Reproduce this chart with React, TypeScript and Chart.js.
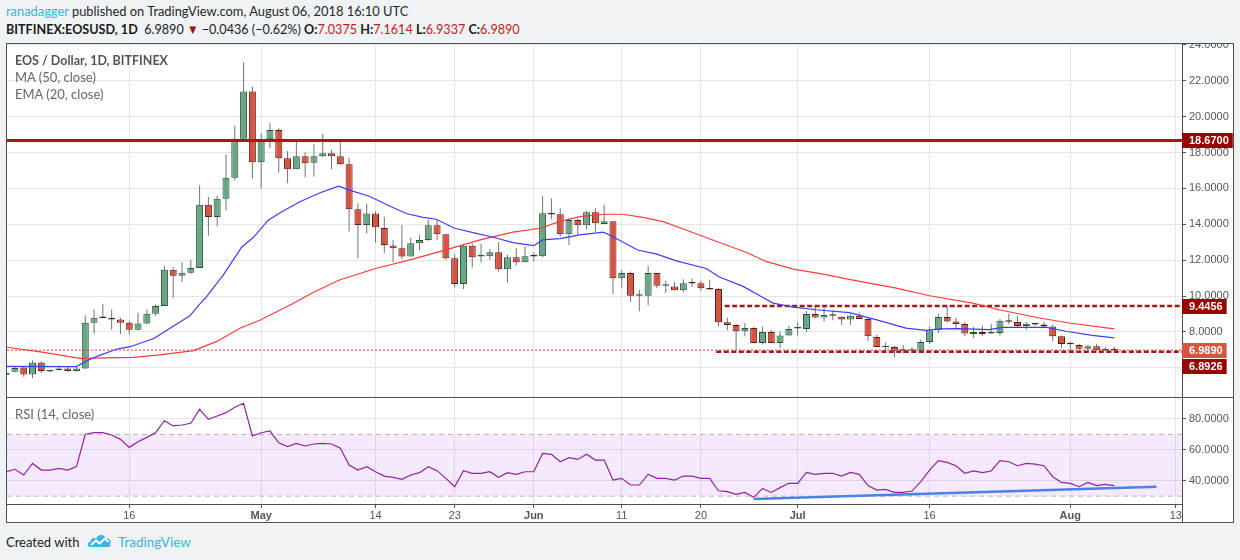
import React, { useEffect, useRef } from "react";
import { Chart, registerables } from "chart.js";

Chart.register(...registerables);

// Day index 0 = 2 April 2018 (daily candles, BITFINEX EOS/USD)
const tickDays = [14, 29, 42, 51, 60, 70, 79, 90, 105, 121, 133];
const tickLabels = ["16", "May", "14", "23", "Jun", "11", "20", "Jul", "16", "Aug", "13"];
const monthLabels = ["May", "Jun", "Jul", "Aug"];

const openPrices = [
  5.62, 5.78, 6.02, 5.63, 6.3, 5.8, 5.87, 5.96, 5.83, 5.96,
  8.52, 8.82, 8.8, 8.69, 8.52, 8.13, 8.47, 9.02, 9.45, 11.47,
  11.14, 11.3, 11.56, 15.09, 14.4, 15.42, 16.59, 18.76, 21.4, 17.45,
  18.74, 19.25, 17.68, 17.06, 17.79, 17.43, 17.79, 17.96, 17.79, 17.34,
  14.84, 13.96, 14.6, 13.8, 12.82, 12.67, 12.2, 12.94, 13.13, 13.94,
  13.44, 12.11, 10.67, 12.8, 12.2, 12.22, 12.44, 11.5, 12.17, 11.89,
  12.24, 12.22, 14.61, 14.56, 13.44, 14.24, 13.94, 14.67, 14.02, 14.17,
  11.0, 11.28, 10.02, 10.02, 11.28, 10.57, 10.54, 10.33, 10.74, 10.72,
  10.44, 10.39, 8.54, 8.39, 8.04, 8.22, 7.39, 8.0, 7.39, 7.8,
  8.2, 8.17, 9.0, 8.81, 8.94, 8.85, 8.69, 8.91, 8.72, 7.72,
  7.15, 7.17, 6.98, 6.96, 6.96, 7.44, 8.09, 8.83, 8.59, 8.44,
  7.89, 8.0, 7.91, 7.94, 8.61, 8.56, 8.33, 8.46, 8.42, 8.31,
  7.76, 7.35, 7.28, 7.06, 7.2, 6.98, 7.0375,
];
const highPrices = [
  5.8, 6.05, 6.05, 6.43, 6.37, 5.9, 6.05, 6.09, 6.09, 8.93,
  9.27, 9.58, 9.25, 8.8, 8.62, 9.08, 9.25, 9.53, 11.7, 11.62,
  11.88, 12.03, 16.17, 15.52, 15.61, 17.89, 19.5, 23.03, 21.68, 19.07,
  19.66, 19.35, 18.08, 18.74, 18.01, 18.46, 19.03, 18.14, 18.75, 17.68,
  15.17, 15.14, 14.73, 14.42, 13.13, 13.96, 13.25, 13.41, 14.24, 14.24,
  13.44, 12.33, 12.91, 12.91, 12.91, 12.61, 13.0, 12.3, 12.67, 12.76,
  12.44, 15.57, 15.44, 14.89, 14.33, 14.33, 14.76, 14.89, 15.09, 14.17,
  11.46, 11.37, 10.35, 11.69, 11.28, 10.85, 10.78, 10.94, 10.98, 10.85,
  10.91, 10.44, 8.81, 8.44, 8.5, 8.28, 8.31, 8.13, 8.04, 8.35,
  8.54, 9.15, 9.43, 9.46, 9.2, 8.87, 9.0, 9.09, 8.81, 7.85,
  7.43, 7.24, 7.28, 7.15, 7.57, 8.31, 9.02, 9.43, 8.78, 8.56,
  8.28, 8.35, 8.46, 8.74, 9.02, 8.91, 8.56, 8.52, 8.54, 8.41,
  7.81, 7.44, 7.35, 7.28, 7.35, 7.15, 7.1614,
];
const lowPrices = [
  5.5, 5.75, 5.5, 5.44, 5.72, 5.75, 5.85, 5.8, 5.8, 5.94,
  7.9, 8.76, 8.13, 7.87, 7.87, 8.09, 8.43, 8.9, 9.45, 9.91,
  10.79, 11.25, 11.56, 13.38, 13.88, 14.78, 16.44, 18.76, 16.54, 16.0,
  18.23, 16.87, 16.28, 17.06, 16.62, 16.65, 17.73, 17.06, 17.3, 13.59,
  12.11, 13.5, 12.98, 12.4, 11.88, 12.05, 12.2, 12.54, 13.09, 13.13,
  12.02, 10.48, 10.39, 11.59, 11.87, 12.02, 11.37, 10.76, 11.7, 11.89,
  11.93, 12.15, 14.3, 13.31, 12.85, 13.41, 13.72, 13.59, 14.02, 10.11,
  10.48, 9.67, 9.15, 9.48, 10.44, 10.17, 10.33, 10.22, 10.5, 10.3,
  10.35, 8.31, 8.09, 6.98, 7.76, 7.39, 7.3, 7.39, 7.11, 7.8,
  7.81, 7.98, 8.78, 8.59, 8.65, 8.41, 8.41, 8.72, 7.48, 7.17,
  6.83, 6.59, 6.8, 6.93, 6.93, 7.33, 7.94, 8.54, 8.22, 7.76,
  7.67, 7.76, 7.89, 7.8, 8.44, 8.28, 8.13, 8.33, 8.22, 7.48,
  7.11, 6.93, 7.02, 6.98, 6.96, 6.94, 6.9337,
];
const closePrices = [
  5.72, 6.0, 5.63, 6.3, 5.83, 5.86, 5.96, 5.83, 5.96, 8.52,
  8.8, 8.78, 8.69, 8.52, 8.13, 8.47, 9.02, 9.45, 11.47, 11.14,
  11.3, 11.56, 15.09, 14.4, 15.42, 16.59, 18.76, 21.4, 17.45, 18.74,
  19.25, 17.68, 17.06, 17.79, 17.4, 17.79, 17.96, 17.79, 17.34, 14.84,
  13.96, 14.6, 13.84, 12.84, 12.67, 12.2, 12.94, 13.13, 13.94, 13.44,
  12.11, 10.67, 12.8, 12.17, 12.24, 12.44, 11.5, 12.17, 11.89, 12.22,
  12.2, 14.61, 14.55, 13.44, 14.24, 13.94, 14.67, 14.06, 14.17, 11.0,
  11.28, 10.02, 10.04, 11.28, 10.57, 10.59, 10.33, 10.72, 10.7, 10.44,
  10.37, 8.54, 8.39, 8.04, 8.22, 7.39, 8.0, 7.39, 7.8, 8.17,
  8.24, 9.0, 8.81, 8.94, 8.9, 8.69, 8.91, 8.72, 7.76, 7.17,
  7.17, 6.96, 6.96, 6.98, 7.44, 8.09, 8.83, 8.59, 8.44, 7.91,
  8.0, 7.89, 7.94, 8.63, 8.57, 8.33, 8.46, 8.42, 8.31, 7.76,
  7.33, 7.31, 7.06, 7.2, 6.98, 7.04, 6.989,
];

const rsiValues = [
  45.8, 47.4, 43.7, 51.2, 46.9, 46.9, 48.0, 46.9, 49.1, 70.1,
  71.1, 71.1, 69.6, 66.8, 61.6, 65.3, 68.1, 71.1, 78.9, 75.5,
  76.1, 77.2, 86.3, 79.8, 81.9, 84.1, 87.6, 90.2, 69.0, 71.1,
  72.2, 64.6, 62.1, 64.2, 62.5, 63.8, 64.2, 63.8, 61.0, 50.2,
  46.9, 49.1, 45.8, 43.0, 42.2, 40.9, 43.7, 45.2, 49.1, 46.5,
  41.5, 36.1, 46.5, 44.8, 44.8, 45.8, 42.2, 45.2, 44.1, 45.8,
  45.8, 57.7, 57.1, 52.3, 54.9, 53.8, 57.1, 53.4, 53.4, 40.4,
  41.5, 37.2, 37.2, 44.1, 41.5, 41.5, 40.4, 43.0, 43.0, 41.5,
  41.5, 33.5, 32.9, 31.1, 32.4, 29.2, 35.0, 32.4, 35.5, 38.3,
  38.3, 45.4, 44.1, 44.8, 44.8, 43.0, 45.4, 44.1, 36.8, 33.9,
  34.4, 32.4, 32.4, 33.3, 39.4, 46.9, 53.0, 51.9, 49.7, 44.8,
  46.3, 45.2, 46.3, 53.0, 52.3, 49.7, 51.2, 50.8, 49.7, 42.6,
  38.9, 38.3, 36.1, 38.9, 36.8, 37.6, 36.8,
];

// EMA (20, close)
const emaDays = [0.1, 8.0, 9.2, 10.7, 12.6, 14.1, 16.8, 18.6, 20.9, 21.9, 22.8, 24.7, 26.8, 28.1, 29.8, 31.3, 33.4, 35.7, 37.8, 39.4, 41.3, 43.6, 45.5, 47.4, 48.9, 51.0, 53.1, 55.4, 57.6, 60.0, 61.0, 63.0, 65.2, 67.9, 69.0, 71.8, 73.9, 76.2, 79.6, 81.1, 83.8, 86.0, 87.2, 89.5, 92.1, 95.9, 98.9, 102.3, 104.6, 106.1, 108.4, 111.8, 113.3, 118.3, 120.5, 123.5, 126];
const emaValues = [6.08, 6.07, 6.4, 6.71, 7.05, 7.18, 7.64, 8.2, 8.9, 9.5, 9.97, 11.18, 12.74, 13.26, 14.23, 14.68, 15.26, 15.76, 16.13, 15.85, 15.56, 15.02, 14.6, 14.39, 14.28, 13.78, 13.54, 13.28, 12.98, 12.81, 13.13, 13.2, 13.41, 13.56, 13.31, 12.57, 12.35, 11.96, 11.54, 11.06, 10.54, 9.94, 9.61, 9.39, 9.24, 9.08, 8.69, 8.22, 8.09, 8.17, 8.19, 8.13, 8.26, 8.26, 8.04, 7.81, 7.67];

// MA (50, close)
const maDays = [0.1, 3.9, 8.4, 14.5, 17.5, 21.3, 23.9, 26.6, 28.9, 32.3, 34.9, 37.9, 42.1, 45.9, 49.3, 53.9, 57.6, 60.7, 62.9, 65.2, 67.9, 70.1, 72.4, 74.7, 77.0, 80.8, 84.2, 86.4, 89.5, 92.9, 96.0, 101.2, 105.0, 109.9, 112.9, 117.5, 120.9, 126];
const maValues = [7.15, 6.89, 6.53, 6.59, 6.72, 6.96, 7.46, 8.21, 8.67, 9.5, 10.2, 10.9, 11.55, 12.02, 12.48, 13.13, 13.56, 13.78, 14.15, 14.43, 14.56, 14.56, 14.39, 14.15, 13.74, 13.04, 12.43, 11.93, 11.5, 11.22, 10.92, 10.44, 10.02, 9.61, 9.24, 8.78, 8.5, 8.17];

const priceTicks = [6, 8, 10, 12, 14, 16, 18, 20, 22, 24];
const rsiTicks = [40, 60, 80];

const resistanceLevel = 18.67;
const rangeTopLevel = 9.4456;
const supportLevel = 6.8926;
const lastClose = 6.989;
const rangeTopStartDay = 81.7;
const supportStartDay = 80.75;

const rsiUpper = 70;
const rsiLower = 30;
const rsiTrendDays = [85, 130.8];
const rsiTrendValues = [28.1, 36.1];

// view range
const X_MIN = 0.1;
const X_MAX = 133.7;
const PRICE_MIN = 4.378;
const PRICE_MAX = 24.045;
const RSI_MIN = 24.9;
const RSI_MAX = 93.6;

// styles
const UP_FILL = "#6ba583";
const UP_BORDER = "#225437";
const DOWN_FILL = "#d75442";
const DOWN_BORDER = "#5b1a13";
const WICK = "#737375";
const GRID = "#e6e6e6";
const FRAME = "#4f4f4f";
const AXIS_TEXT = "#555555";
const LEVEL_RED = "#a31919";
const TAG_RED = "#990000";
const AXIS_W = 51;

Chart.defaults.font.family = "'Liberation Sans', Arial, sans-serif";

const candleIdx = openPrices.map((_, i) => i);
const isUp = (i: number) => closePrices[i] >= openPrices[i];

const tagPlugin = {
  id: "priceTags",
  afterDraw(chart: any) {
    const { ctx, chartArea, scales } = chart;
    const ys = scales.y;
    const tags = [
      { value: resistanceLevel, bg: TAG_RED },
      { value: rangeTopLevel, bg: TAG_RED },
      { value: lastClose, bg: DOWN_FILL },
      { value: supportLevel, bg: TAG_RED },
    ].sort((a, b) => b.value - a.value);
    ctx.save();
    ctx.font = "bold 11px 'Liberation Sans', Arial, sans-serif";
    ctx.textBaseline = "middle";
    const h = 15;
    let lastBottom = -Infinity;
    for (const t of tags) {
      const cy = ys.getPixelForValue(t.value);
      const top = Math.max(Math.round(cy - h / 2), lastBottom + 1);
      const text = t.value.toFixed(4);
      const w = ctx.measureText(text).width;
      ctx.fillStyle = t.bg;
      ctx.fillRect(chartArea.right, top, 7 + w + 4, h);
      ctx.fillStyle = "#ffffff";
      ctx.fillText(text, chartArea.right + 7, top + h / 2 + 0.5);
      lastBottom = top + h;
    }
    ctx.restore();
  },
};

function levelLine(y: number, fromX: number, color: string, width: number, dash: number[] = []) {
  return {
    type: "line",
    data: [
      { x: fromX, y },
      { x: X_MAX, y },
    ],
    borderColor: color,
    borderWidth: width,
    borderDash: dash,
    pointRadius: 0,
    fill: false,
    order: 0,
  };
}

function xScale(showLabels: boolean) {
  return {
    type: "linear",
    min: X_MIN,
    max: X_MAX,
    offset: false,
    afterBuildTicks: (s: any) => {
      s.ticks = tickDays.map((v) => ({ value: v }));
    },
    afterFit: (s: any) => {
      s.height = showLabels ? 18 : 0;
      s.paddingLeft = 0;
      s.paddingRight = 0;
      s.paddingTop = 0;
      s.paddingBottom = 0;
    },
    ticks: {
      display: showLabels,
      autoSkip: false,
      maxRotation: 0,
      padding: 1,
      color: AXIS_TEXT,
      font: (c: any) => {
        const lbl = tickLabels[tickDays.indexOf(c.tick ? c.tick.value : -1)];
        return { size: 11, weight: monthLabels.includes(lbl) ? "bold" : "normal" };
      },
      callback: (v: any) => {
        const k = tickDays.indexOf(Number(v));
        return k >= 0 ? tickLabels[k] : "";
      },
    },
    grid: {
      color: GRID,
      offset: false,
      drawTicks: showLabels,
      tickLength: 4,
      tickColor: AXIS_TEXT,
    },
    border: { display: showLabels, color: FRAME },
  };
}

function yScale(min: number, max: number, ticks: number[]) {
  return {
    type: "linear",
    position: "right",
    min,
    max,
    afterBuildTicks: (s: any) => {
      s.ticks = ticks.map((v) => ({ value: v }));
    },
    afterFit: (s: any) => {
      s.width = AXIS_W;
      s.paddingTop = 0;
      s.paddingBottom = 0;
      s.paddingLeft = 0;
      s.paddingRight = 0;
    },
    ticks: {
      autoSkip: false,
      padding: 3,
      color: AXIS_TEXT,
      font: { size: 11 },
      callback: (v: any) => Number(v).toFixed(4),
    },
    grid: { color: GRID, tickLength: 4, tickColor: AXIS_TEXT },
    border: { display: true, color: FRAME },
  };
}

function priceConfig(): any {
  return {
    type: "bar",
    data: {
      datasets: [
        {
          type: "line",
          label: "EMA (20, close)",
          data: emaDays.map((d, i) => ({ x: d, y: emaValues[i] })),
          borderColor: "#3d3dff",
          borderWidth: 1.2,
          pointRadius: 0,
          fill: false,
          order: 0,
        },
        {
          type: "line",
          label: "MA (50, close)",
          data: maDays.map((d, i) => ({ x: d, y: maValues[i] })),
          borderColor: "#ff3b3b",
          borderWidth: 1.2,
          pointRadius: 0,
          fill: false,
          order: 0,
        },
        levelLine(resistanceLevel, X_MIN, LEVEL_RED, 3),
        levelLine(rangeTopLevel, rangeTopStartDay, LEVEL_RED, 2.5, [5, 2.5]),
        levelLine(supportLevel, supportStartDay, LEVEL_RED, 2.5, [5, 2.5]),
        levelLine(lastClose, X_MIN, "#e0453a", 1, [2, 2]),
        {
          type: "bar",
          label: "bodies",
          data: candleIdx.map((i) => ({ x: i, y: [openPrices[i], closePrices[i]] })),
          backgroundColor: candleIdx.map((i) => (isUp(i) ? UP_FILL : DOWN_FILL)),
          borderColor: candleIdx.map((i) => (isUp(i) ? UP_BORDER : DOWN_BORDER)),
          borderWidth: 1,
          borderSkipped: false,
          grouped: false,
          barPercentage: 0.8,
          categoryPercentage: 1,
          maxBarThickness: 7,
          minBarLength: 1.5,
          inflateAmount: 0,
          order: 2,
        },
        {
          type: "bar",
          label: "wicks",
          data: candleIdx.map((i) => ({ x: i, y: [lowPrices[i], highPrices[i]] })),
          backgroundColor: WICK,
          borderWidth: 0,
          grouped: false,
          barPercentage: 1,
          categoryPercentage: 1,
          maxBarThickness: 1,
          inflateAmount: 0,
          order: 3,
        },
      ],
    },
    options: {
      animation: false,
      responsive: false,
      maintainAspectRatio: false,
      events: [],
      layout: { padding: 0 },
      plugins: { legend: { display: false }, tooltip: { enabled: false } },
      scales: {
        x: xScale(false),
        y: yScale(PRICE_MIN, PRICE_MAX, priceTicks),
      },
    },
    plugins: [tagPlugin],
  };
}

function rsiConfig(): any {
  return {
    type: "line",
    data: {
      datasets: [
        {
          label: "upper",
          data: [
            { x: X_MIN, y: rsiUpper },
            { x: X_MAX, y: rsiUpper },
          ],
          borderColor: "#b4b4b4",
          borderWidth: 1,
          borderDash: [5, 4],
          pointRadius: 0,
          fill: false,
          order: 3,
        },
        {
          label: "lower",
          data: [
            { x: X_MIN, y: rsiLower },
            { x: X_MAX, y: rsiLower },
          ],
          borderColor: "#b4b4b4",
          borderWidth: 1,
          borderDash: [5, 4],
          pointRadius: 0,
          fill: { value: rsiUpper },
          backgroundColor: "rgba(155, 40, 240, 0.1)",
          order: 3,
        },
        {
          label: "RSI (14, close)",
          data: candleIdx.map((i) => ({ x: i, y: rsiValues[i] })),
          borderColor: "#9321a3",
          borderWidth: 1.2,
          pointRadius: 0,
          fill: false,
          order: 1,
        },
        {
          label: "trend",
          data: rsiTrendDays.map((d, i) => ({ x: d, y: rsiTrendValues[i] })),
          borderColor: "#4a82e6",
          borderWidth: 2.5,
          pointRadius: 0,
          fill: false,
          order: 0,
        },
      ],
    },
    options: {
      animation: false,
      responsive: false,
      maintainAspectRatio: false,
      events: [],
      layout: { padding: 0 },
      plugins: { legend: { display: false }, tooltip: { enabled: false } },
      scales: {
        x: xScale(true),
        y: yScale(RSI_MIN, RSI_MAX, rsiTicks),
      },
    },
  };
}

const LATO = "Lato, 'Noto Sans', sans-serif";

export default function App() {
  const priceRef = useRef<HTMLCanvasElement>(null);
  const rsiRef = useRef<HTMLCanvasElement>(null);

  useEffect(() => {
    const pc = new Chart(priceRef.current as HTMLCanvasElement, priceConfig());
    const rc = new Chart(rsiRef.current as HTMLCanvasElement, rsiConfig());
    return () => {
      pc.destroy();
      rc.destroy();
    };
  }, []);

  const red = { color: "#c41a1a" };
  const b = { fontWeight: 700 };

  return (
    <div
      style={{
        position: "absolute",
        left: 0,
        top: 0,
        width: 1240,
        height: 560,
        background: "#f0f3f6",
        fontFamily: LATO,
        overflow: "hidden",
      }}
    >
      <div
        style={{
          position: "absolute",
          left: 6,
          top: 2,
          fontSize: 14,
          lineHeight: "17px",
          color: "#262626",
          whiteSpace: "nowrap",
          transform: "scaleX(0.92)",
          transformOrigin: "0 0",
        }}
      >
        <span style={{ color: "#3bb3e4" }}>ranadagger</span> published on TradingView.com, August 06, 2018 16:10 UTC
      </div>
      <div
        style={{
          position: "absolute",
          left: 6,
          top: 20,
          fontSize: 14,
          lineHeight: "17px",
          color: "#1a1a1a",
          whiteSpace: "nowrap",
          transform: "scaleX(0.9)",
          transformOrigin: "0 0",
        }}
      >
        <span style={b}>BITFINEX:EOSUSD, 1D</span>&nbsp; 6.9890 <span style={{ color: "#a50f0f", fontSize: 13 }}>▼</span> −0.0436 (−0.62%){" "}
        <span style={b}>O:</span>
        <span style={red}>7.0375</span> <span style={b}>H:</span>
        <span style={red}>7.1614</span> <span style={b}>L:</span>
        <span style={red}>6.9337</span> <span style={b}>C:</span>
        <span style={red}>6.9890</span>
      </div>

      <div
        style={{
          position: "absolute",
          left: 6,
          top: 43,
          width: 1228,
          height: 480,
          border: `1px solid ${FRAME}`,
          boxSizing: "border-box",
          background: "#ffffff",
        }}
      >
        <canvas ref={priceRef} width={1226} height={353} style={{ position: "absolute", left: 0, top: 0 }} />
        <div style={{ position: "absolute", left: 0, top: 353, width: 1226, height: 1, background: FRAME }} />
        <canvas ref={rsiRef} width={1226} height={124} style={{ position: "absolute", left: 0, top: 354 }} />
        <div style={{ position: "absolute", left: 1175, top: 460, width: 1, height: 18, background: FRAME }} />

        <div style={{ position: "absolute", left: 8, top: 8, fontSize: 12.5, lineHeight: "17px", color: "#555", fontWeight: 700, whiteSpace: "nowrap" }}>
          EOS / Dollar, 1D, BITFINEX
        </div>
        <div style={{ position: "absolute", left: 8, top: 25, fontSize: 13, lineHeight: "17px", color: "#666", whiteSpace: "nowrap" }}>
          MA (50, close)
        </div>
        <div style={{ position: "absolute", left: 8, top: 42, fontSize: 13, lineHeight: "17px", color: "#666", whiteSpace: "nowrap" }}>
          EMA (20, close)
        </div>
        <div style={{ position: "absolute", left: 8, top: 362, fontSize: 13, lineHeight: "17px", color: "#666", whiteSpace: "nowrap" }}>
          RSI (14, close)
        </div>
      </div>

      <div style={{ position: "absolute", left: 6, top: 534, fontSize: 13, lineHeight: "16px", color: "#1a1a1a", whiteSpace: "nowrap" }}>
        Created with
      </div>
      <svg style={{ position: "absolute", left: 87, top: 533 }} width={25} height={15} viewBox="0 0 25 15">
        <path d="M3 14 C0 14 0 9 3.5 8.5 C3.5 5 7.5 4 9 6 C10.5 1 17 0.5 18.5 5 C22 4.5 25 8 23 11 C24 13 23 14 21 14 Z" fill="#3bb3e4" />
        <polyline points="4,12 9,7.5 12.5,10.5 18,5.5 21.5,9" fill="none" stroke="#ffffff" strokeWidth={2} strokeLinejoin="round" />
      </svg>
      <div style={{ position: "absolute", left: 118, top: 534, fontSize: 13.5, lineHeight: "16px", color: "#3bb3e4", whiteSpace: "nowrap" }}>
        TradingView
      </div>
    </div>
  );
}
